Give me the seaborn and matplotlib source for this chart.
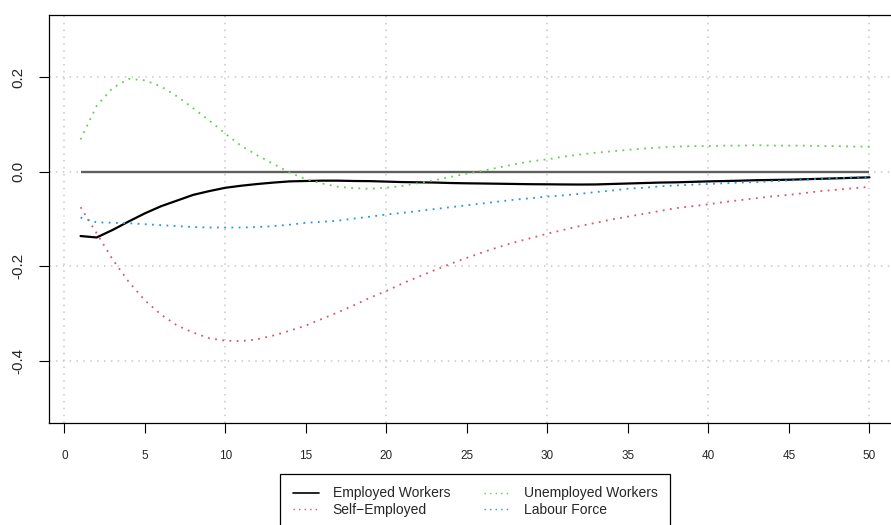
import matplotlib
matplotlib.use("Agg")
import matplotlib.pyplot as plt
from matplotlib.lines import Line2D
import numpy as np
import pandas as pd
import seaborn as sns

# Impulse responses over a 50-step horizon
horizon = list(range(1, 51))

employed = [
    -0.136, -0.139, -0.123, -0.105, -0.088, -0.073, -0.061, -0.049, -0.041, -0.034,
    -0.0296, -0.026, -0.023, -0.0205, -0.0197, -0.019, -0.019, -0.0197, -0.020, -0.021,
    -0.022, -0.0225, -0.023, -0.024, -0.0246, -0.025, -0.0255, -0.026, -0.0265, -0.0267,
    -0.027, -0.0272, -0.027, -0.026, -0.025, -0.024, -0.023, -0.0225, -0.0215, -0.0205,
    -0.0198, -0.019, -0.018, -0.0175, -0.017, -0.016, -0.015, -0.014, -0.013, -0.012,
]
self_employed = [
    -0.075, -0.130, -0.186, -0.233, -0.272, -0.302, -0.325, -0.340, -0.352, -0.357,
    -0.358, -0.354, -0.346, -0.336, -0.325, -0.311, -0.297, -0.282, -0.266, -0.252,
    -0.236, -0.222, -0.208, -0.1945, -0.182, -0.170, -0.159, -0.149, -0.140, -0.131,
    -0.123, -0.115, -0.108, -0.101, -0.095, -0.089, -0.083, -0.077, -0.073, -0.069,
    -0.064, -0.060, -0.056, -0.052, -0.049, -0.045, -0.041, -0.038, -0.035, -0.032,
]
unemployed = [
    0.068, 0.139, 0.177, 0.196, 0.193, 0.180, 0.159, 0.134, 0.108, 0.080,
    0.054, 0.034, 0.016, -0.002, -0.016, -0.025, -0.032, -0.035, -0.036, -0.034,
    -0.030, -0.024, -0.018, -0.011, -0.004, 0.002, 0.009, 0.016, 0.022, 0.026,
    0.032, 0.036, 0.040, 0.043, 0.046, 0.049, 0.051, 0.053, 0.054, 0.054,
    0.055, 0.055, 0.056, 0.055, 0.055, 0.055, 0.054, 0.054, 0.053, 0.053,
]
labour_force = [
    -0.097, -0.107, -0.108, -0.109, -0.111, -0.113, -0.115, -0.117, -0.118, -0.118,
    -0.118, -0.117, -0.115, -0.112, -0.108, -0.106, -0.1035, -0.099, -0.095, -0.0905,
    -0.087, -0.083, -0.079, -0.075, -0.071, -0.067, -0.063, -0.059, -0.056, -0.0525,
    -0.050, -0.047, -0.043, -0.040, -0.036, -0.034, -0.031, -0.029, -0.0275, -0.026,
    -0.0245, -0.023, -0.022, -0.020, -0.0187, -0.017, -0.015, -0.0134, -0.0125, -0.0116,
]

series_names = ["Employed Workers", "Self\u2212Employed", "Unemployed Workers", "Labour Force"]
series_colors = ["#000000", "#DF536B", "#61D04F", "#2297E6"]
series_dashes = ["", (1, 3), (1, 3), (1, 3)]

x_ticks = list(range(0, 51, 5))
y_ticks = [-0.4, -0.2, 0.0, 0.2]
grid_x = list(range(0, 51, 10))
grid_y = y_ticks

df = pd.DataFrame({"h": horizon})
for name, vals in zip(series_names, [employed, self_employed, unemployed, labour_force]):
    df[name] = vals
long_df = df.melt(id_vars="h", var_name="series", value_name="value")

sns.set_style("white")
plt.rcParams["font.family"] = ["Liberation Sans", "DejaVu Sans"]
plt.rcParams["axes.unicode_minus"] = True

fig = plt.figure(figsize=(8.91, 5.25), dpi=100)
ax = fig.add_axes([49 / 891, 1 - 423 / 525, (901 - 49) / 891, (423 - 15) / 525])

# dotted light-grey grid
for gx in grid_x:
    ax.axvline(gx, color="#C8C8C8", lw=1.1, dashes=(1, 3.5), zorder=0)
for gy in grid_y:
    ax.axhline(gy, color="#C8C8C8", lw=1.1, dashes=(1, 3.5), zorder=0)

# zero reference line across the horizon
ax.hlines(0, horizon[0], horizon[-1], color="#5f5f5f", lw=1.7, zorder=1.5)

sns.lineplot(
    data=long_df, x="h", y="value",
    hue="series", style="series",
    hue_order=series_names, style_order=series_names,
    palette=dict(zip(series_names, series_colors)),
    dashes=dict(zip(series_names, series_dashes)),
    linewidth=1.3, legend=False, ax=ax, zorder=2,
)
# the solid employed-workers line is a touch heavier
for line in ax.get_lines():
    if line.get_linestyle() == "-" and line.get_color() in ("#000000", "black", (0.0, 0.0, 0.0, 1.0)):
        line.set_linewidth(1.6)

ax.set_xlim(horizon[0] - 0.04 * (horizon[-1] - horizon[0]), horizon[-1] + 0.04 * (horizon[-1] - horizon[0]))
ax.set_ylim(-0.531, 0.331)
ax.set_xticks(x_ticks)
ax.set_xticklabels([str(t) for t in x_ticks])
ax.set_yticks(y_ticks)
ax.set_yticklabels([f"{t:.1f}" for t in y_ticks], rotation=90, va="center")
ax.set_xlabel("")
ax.set_ylabel("")
ax.tick_params(axis="x", direction="out", length=7.2, width=0.8, color="black",
               labelsize=8.5, pad=12, bottom=True)
ax.tick_params(axis="y", direction="out", length=7.2, width=0.8, color="black",
               labelsize=11, pad=10, left=True)
for side in ["left", "top", "bottom", "right"]:
    ax.spines[side].set_visible(True)
    ax.spines[side].set_color("black")
    ax.spines[side].set_linewidth(0.9)

handles = [Line2D([], [], color=series_colors[0], lw=1.2, linestyle="-")]
for c, d in zip(series_colors[1:], series_dashes[1:]):
    handles.append(Line2D([], [], color=c, lw=1.0, dashes=d))
leg = fig.legend(
    handles, series_names, ncol=2, loc="upper left",
    bbox_to_anchor=(280 / 891, 1 - 474 / 525), borderaxespad=0,
    frameon=True, fancybox=False, edgecolor="black", framealpha=1,
    fontsize=10, handlelength=1.9, handletextpad=1.0, columnspacing=2.4,
    borderpad=0.9, labelspacing=0.15,
)
leg.get_frame().set_linewidth(0.9)

fig.savefig("out.png", dpi=100)
